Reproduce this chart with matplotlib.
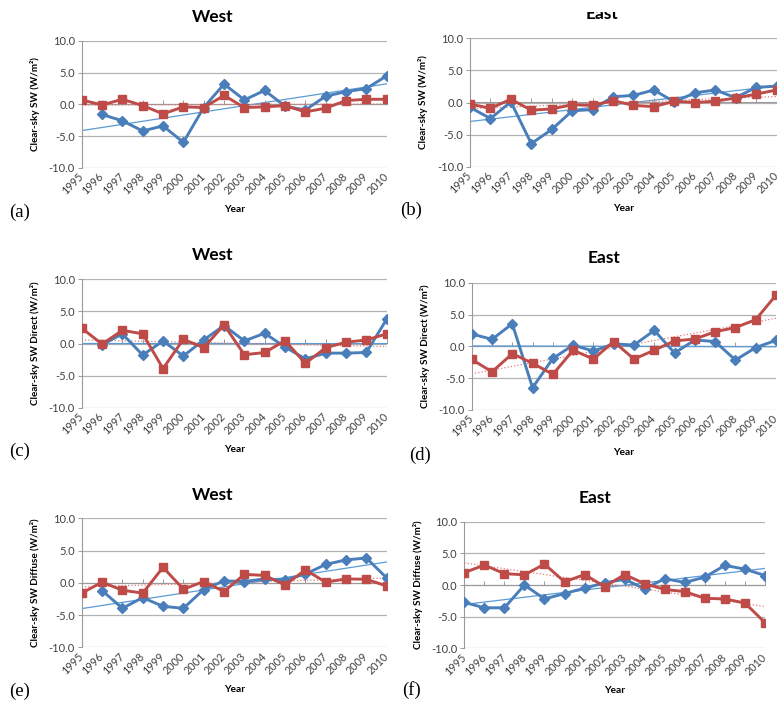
import numpy as np
import matplotlib
matplotlib.use('Agg')
import matplotlib.pyplot as plt
from matplotlib.patches import Rectangle

plt.rcParams['font.family'] = ['Lato', 'DejaVu Sans']

nan = np.nan
years = list(range(1995, 2011))
yticks = [-10, -5, 0, 5, 10]

# (a) West, Clear-sky SW
a_blue = [nan, -1.6, -2.6, -4.2, -3.4, -6.0, -0.5, 3.2, 0.7, 2.2, -0.3, -0.9, 1.3, 2.0, 2.5, 4.5]
a_red = [0.7, -0.1, 0.8, -0.2, -1.5, -0.4, -0.5, 1.4, -0.5, -0.4, -0.2, -1.2, -0.6, 0.6, 0.8, 0.8]
# (b) East, Clear-sky SW
b_blue = [-0.75, -2.5, 0.1, -6.4, -4.2, -1.3, -1.1, 0.9, 1.1, 1.95, 0.1, 1.5, 1.95, 0.75, 2.35, 2.55]
b_red = [-0.25, -0.9, 0.5, -1.2, -1.0, -0.35, -0.45, 0.3, -0.45, -0.65, 0.2, 0.0, 0.2, 0.7, 1.3, 1.95]
# (c) West, Direct
c_blue = [nan, -0.2, 1.5, -1.8, 0.4, -1.95, 0.55, 2.8, 0.4, 1.6, -0.55, -2.4, -1.5, -1.5, -1.4, 3.8]
c_red = [2.4, -0.1, 2.05, 1.5, -3.9, 0.65, -0.65, 2.9, -1.75, -1.4, 0.45, -3.1, -0.65, 0.2, 0.55, 1.5]
# (d) East, Direct
d_blue = [1.95, 1.1, 3.55, -6.5, -1.9, 0.2, -0.75, 0.4, 0.2, 2.5, -1.05, 1.0, 0.75, -2.15, -0.2, 0.95]
d_red = [-2.05, -4.0, -1.15, -2.65, -4.4, -0.6, -2.0, 0.75, -2.0, -0.6, 0.85, 1.15, 2.3, 2.95, 4.2, 8.05]
# (e) West, Diffuse
e_blue = [nan, -1.2, -3.95, -2.3, -3.65, -3.95, -1.05, 0.3, 0.2, 0.6, 0.45, 1.35, 2.85, 3.55, 3.85, 0.75]
e_red = [-1.6, 0.1, -1.15, -1.6, 2.4, -1.0, 0.2, -1.35, 1.3, 1.15, -0.35, 2.0, 0.1, 0.6, 0.55, -0.5]
# (f) East, Diffuse
f_blue = [-2.75, -3.6, -3.6, 0.0, -2.2, -1.35, -0.5, 0.35, 0.9, -0.6, 1.0, 0.4, 1.25, 3.1, 2.5, 1.5]
f_red = [1.95, 3.15, 1.8, 1.6, 3.3, 0.5, 1.65, -0.25, 1.65, 0.2, -0.7, -1.05, -2.1, -2.2, -2.85, -5.95]

BLUE = '#4A7EBB'
RED = '#BE4B48'
BLUE_T = '#5B9BD5'
RED_T = '#E07B7B'
GRID = '#B3B3B3'
AX = '#9A9A9A'

W, H = 777, 706
fig = plt.figure(figsize=(W / 100, H / 100), dpi=100)


def rect(l, r, t, b):
    return [l / W, 1 - b / H, (r - l) / W, (b - t) / H]


panels = [
    dict(blue=a_blue, red=a_red, ylab='Clear-sky SW (W/m²)', title='West', lab='(a)',
         rect=rect(81.7, 386.7, 41, 167.7), tpos=(213, 16.7), lpos=(20, 212)),
    dict(blue=b_blue, red=b_red, ylab='Clear-sky SW (W/m²)', title='East', lab='(b)',
         rect=rect(470, 776.5, 38.3, 166.7), tpos=(602.5, 14.0), lpos=(411, 210)),
    dict(blue=c_blue, red=c_red, ylab='Clear-sky SW Direct (W/m²)', title='West', lab='(c)',
         rect=rect(81.7, 386.7, 279.3, 407.7), tpos=(213, 255.5), lpos=(20, 451)),
    dict(blue=d_blue, red=d_red, ylab='Clear-sky SW Direct (W/m²)', title='East', lab='(d)',
         rect=rect(471.7, 776, 282.7, 410), tpos=(604, 258.5), lpos=(420, 455)),
    dict(blue=e_blue, red=e_red, ylab='Clear-sky SW Diffuse (W/m²)', title='West', lab='(e)',
         rect=rect(81.7, 386.7, 518.3, 647.3), tpos=(213, 494.5), lpos=(20, 691)),
    dict(blue=f_blue, red=f_red, ylab='Clear-sky SW Diffuse (W/m²)', title='East', lab='(f)',
         rect=rect(464.3, 765, 521.7, 648.3), tpos=(595, 498), lpos=(411, 690)),
]

x = np.array(years, dtype=float)

for p in panels:
    ax = fig.add_axes(p['rect'])
    ax.set_xlim(years[0], years[-1])
    ax.set_ylim(yticks[0], yticks[-1])
    for v in yticks:
        ax.axhline(v, color=GRID, lw=0.9, zorder=0)

    # trend lines
    for ser, col, ls in ((p['blue'], BLUE_T, '-'), (p['red'], RED_T, ':')):
        yv = np.array(ser, dtype=float)
        m = ~np.isnan(yv)
        k, c0 = np.polyfit(x[m], yv[m], 1)
        xe = np.array([years[0], years[-1]], dtype=float)
        ax.plot(xe, k * xe + c0, color=col, lw=0.9, ls=ls, zorder=2)

    ax.plot(years, p['blue'], color=BLUE, lw=2.1, marker='D', ms=5.4,
            markeredgecolor=BLUE, zorder=4)
    ax.plot(years, p['red'], color=RED, lw=2.1, marker='s', ms=6.2,
            markeredgecolor=RED, zorder=5)

    # zero-crossing category axis with tick marks
    sec = ax.secondary_xaxis(0.5)
    sec.set_xticks(years)
    sec.set_xticklabels([])
    sec.tick_params(axis='x', direction='out', length=3, color=AX, width=0.7)
    for sp in sec.spines.values():
        sp.set_color(AX)
        sp.set_linewidth(0.8)

    for s in ('top', 'right', 'bottom'):
        ax.spines[s].set_visible(False)
    ax.spines['left'].set_color(AX)
    ax.spines['left'].set_linewidth(0.8)

    ax.set_yticks(yticks)
    ax.set_yticklabels([f'{v:.1f}' for v in yticks], fontsize=8, color='#404040')
    ax.tick_params(axis='y', length=3, color=AX, width=0.7, pad=2)

    ax.set_xticks(years)
    ax.set_xticklabels([str(yv) for yv in years], fontsize=7.8, color='#404040',
                       rotation=45, ha='right', va='center', rotation_mode='anchor')
    ax.tick_params(axis='x', length=0, pad=5)

    l, b, w, h = p['rect']
    wpx, hpx = w * W, h * H
    ax.set_ylabel(p['ylab'], fontsize=7.1, fontweight='bold')
    ax.yaxis.set_label_coords(-41.5 / wpx, 0.5)
    ax.set_xlabel('Year', fontsize=7.4, fontweight='bold', va='center')
    ax.xaxis.set_label_coords(0.5, -42.2 / hpx)

    fig.text(p['tpos'][0] / W, 1 - p['tpos'][1] / H, p['title'], ha='center', va='center',
             fontsize=12.5, fontweight='bold')
    fig.text(p['lpos'][0] / W, 1 - p['lpos'][1] / H, p['lab'], ha='center', va='center',
             fontsize=13.5, family=['Liberation Serif', 'DejaVu Serif'])

# the reference image is cropped through the top of the (b) title
fig.add_artist(Rectangle((540 / W, 1 - 11.7 / H), 140 / W, 11.7 / H,
                         transform=fig.transFigure, facecolor='white',
                         edgecolor='none', zorder=20))

fig.savefig('out.png', dpi=100, facecolor='white')
